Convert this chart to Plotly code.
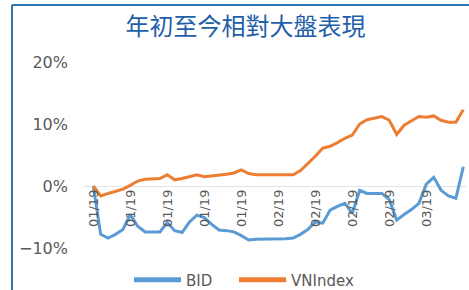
import plotly.graph_objects as go

# Series values (% change year-to-date), one per trading day
bid = [0.0, -7.8, -8.4, -7.8, -7.0, -4.6, -6.5, -7.4, -7.4, -7.4,
       -5.9, -7.2, -7.5, -5.8, -4.7, -5.1, -6.2, -7.1, -7.2, -7.4,
       -8.0, -8.7, -8.6, -8.6, -8.5, -8.5, -8.5, -8.4, -7.8, -7.0,
       -5.8, -6.0, -3.9, -3.3, -2.8, -4.4, -0.7, -1.2, -1.2, -1.2,
       -2.2, -5.5, -4.6, -3.8, -2.8, 0.3, 1.4, -0.7, -1.6, -2.0,
       3.1]
vnindex = [0.0, -1.6, -1.2, -0.9, -0.5, 0.1, 0.8, 1.1, 1.1, 1.2,
           1.8, 1.0, 1.2, 1.5, 1.8, 1.5, 1.6, 1.8, 1.9, 2.1,
           2.6, 2.0, 1.8, 1.8, 1.8, 1.8, 1.8, 1.8, 2.5, 3.6,
           4.8, 6.1, 6.4, 7.0, 7.7, 8.2, 10.0, 10.7, 11.0, 11.2,
           10.6, 8.3, 9.8, 10.5, 11.2, 11.1, 11.3, 10.6, 10.3, 10.3,
           12.3]
tick_labels = ["01/19", "01/19", "01/19", "01/19", "01/19",
               "02/19", "02/19", "02/19", "02/19", "03/19", "03/19"]
tick_step = 5
title_text = "年初至今相對大盤表現"

x = list(range(len(bid)))
tickvals = [i * tick_step for i in range(len(tick_labels))]

W, H = 469, 290
ml, mr, mt, mb = 83, 3, 62, 42
pw, ph = W - ml - mr, H - mt - mb


def px_x(p):
    return (p - ml) / pw


def px_y(p):
    return (H - mb - p) / ph


fig = go.Figure()
fig.add_trace(go.Scatter(x=x, y=[v / 100 for v in bid], mode="lines", name="BID",
                         line=dict(color="#5B9BD5", width=3), legend="legend"))
fig.add_trace(go.Scatter(x=x, y=[v / 100 for v in vnindex], mode="lines", name="VNIndex",
                         line=dict(color="#ED7D31", width=3), legend="legend2"))

x_first = 93.3
x_step = 7.4
n = len(bid)
legend_style = dict(orientation="h", xanchor="left", xref="container",
                    yref="container", y=1 - 280 / H, yanchor="middle",
                    font=dict(family="DejaVu Sans", size=15, color="#595959"),
                    bgcolor="rgba(0,0,0,0)", itemwidth=47, itemsizing="constant",
                    borderwidth=0)
fig.update_layout(
    width=W, height=H,
    margin=dict(l=ml, r=mr, t=mt, b=mb, autoexpand=False),
    paper_bgcolor="white", plot_bgcolor="white",
    title=dict(text=title_text, x=245.5 / W, xanchor="center", xref="container",
               y=1 - 27 / H, yanchor="middle", yref="container",
               font=dict(family="Noto Sans CJK TC", size=24, color="#1F5FA8")),
    xaxis=dict(range=[-(x_first - ml) / x_step, (n - 1) + (W - mr - (x_first + x_step * (n - 1))) / x_step],
               tickvals=tickvals, ticktext=tick_labels, tickangle=-90,
               anchor="free", position=1 / 3, showgrid=False, zeroline=False,
               showline=False, ticks="", automargin=False,
               tickfont=dict(family="DejaVu Sans", size=13, color="#595959")),
    yaxis=dict(range=[-0.1, 0.2], tickvals=[-0.1, 0, 0.1, 0.2], tickformat=".0%",
               showgrid=False, zeroline=True, zerolinecolor="#E3E3E3", zerolinewidth=1,
               showline=False, ticks="", ticklabelstandoff=14, automargin=False,
               tickfont=dict(family="DejaVu Sans", size=16, color="#595959")),
    legend=dict(legend_style, x=129 / W),
    legend2=dict(legend_style, x=234 / W),
    showlegend=True,
)

# Blue frame of the chart box (left and top edges)
fig.add_shape(type="line", xref="paper", yref="paper",
              x0=px_x(12), x1=px_x(12), y0=px_y(5), y1=px_y(H + 5),
              line=dict(color="#2E75B6", width=2))
fig.add_shape(type="line", xref="paper", yref="paper",
              x0=px_x(12), x1=px_x(W + 5), y0=px_y(5), y1=px_y(5),
              line=dict(color="#2E75B6", width=2))

fig.write_html("out.html", config={"displayModeBar": False},
               post_script="document.body.style.margin='0';document.body.style.padding='0';")
